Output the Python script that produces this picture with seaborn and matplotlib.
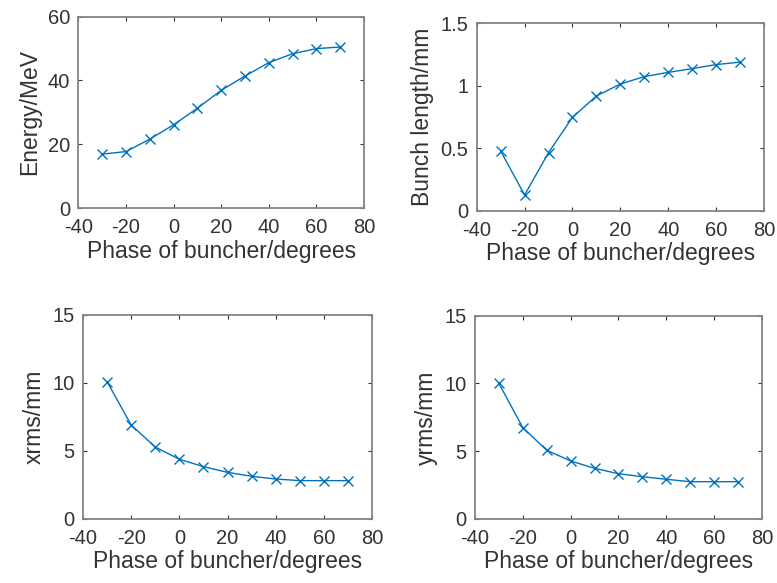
import numpy as np
import pandas as pd
import matplotlib
matplotlib.use("Agg")
import matplotlib.pyplot as plt
import seaborn as sns

# Dane
phase = [-30, -20, -10, 0, 10, 20, 30, 40, 50, 60, 70]
energy = [16.9, 17.7, 21.6, 26.1, 31.3, 36.9, 41.4, 45.6, 48.4, 50.0, 50.5]
bunch_length = [0.48, 0.128, 0.466, 0.749, 0.919, 1.015, 1.074, 1.108, 1.138, 1.17, 1.19]
xrms = [10.1, 6.91, 5.29, 4.39, 3.85, 3.43, 3.14, 2.94, 2.82, 2.82, 2.82]
yrms = [10.0, 6.74, 5.07, 4.28, 3.74, 3.34, 3.12, 2.93, 2.75, 2.75, 2.75]

sns.set_style("ticks")
plt.rcParams["font.family"] = ["Liberation Sans", "DejaVu Sans"]

line_color = "#0072BD"
text_color = "#333333"
box_color = "#858585"

fig = plt.figure(figsize=(7.77, 5.83), dpi=100)

panels = [
    ([0.1008, 0.6432, 0.3677, 0.3281], energy, "Energy/MeV", (0, 60), [0, 20, 40, 60], ["0", "20", "40", "60"]),
    ([0.6135, 0.6381, 0.3698, 0.3219], bunch_length, "Bunch length/mm", (0, 1.5), [0, 0.5, 1, 1.5], ["0", "0.5", "1", "1.5"]),
    ([0.1068, 0.1098, 0.3720, 0.3499], xrms, "xrms/mm", (0, 15), [0, 5, 10, 15], ["0", "5", "10", "15"]),
    ([0.6113, 0.1098, 0.3694, 0.3487], yrms, "yrms/mm", (0, 15), [0, 5, 10, 15], ["0", "5", "10", "15"]),
]

for pos, values, ylabel, ylim, yticks, yticklabels in panels:
    ax = fig.add_axes(pos)
    df = pd.DataFrame({"phase": phase, "value": values})
    sns.lineplot(data=df, x="phase", y="value", ax=ax, color=line_color,
                 marker="x", markersize=7.5, markeredgewidth=1.0,
                 markeredgecolor=line_color, linewidth=1.0)
    ax.set_xlim(-40, 80)
    ax.set_xticks([-40, -20, 0, 20, 40, 60, 80])
    ax.set_xticklabels(["-40", "-20", "0", "20", "40", "60", "80"])
    ax.set_ylim(*ylim)
    ax.set_yticks(yticks)
    ax.set_yticklabels(yticklabels)
    ax.set_xlabel("Phase of buncher/degrees", fontsize=16.5, color=text_color, labelpad=2)
    ax.set_ylabel(ylabel, fontsize=16.5, color=text_color, labelpad=5)
    ax.tick_params(direction="in", top=True, right=True, length=3, width=0.8,
                   labelsize=14.5, colors=text_color)
    ax.tick_params(axis="x", pad=7)
    ax.tick_params(axis="y", pad=6)
    for sp in ax.spines.values():
        sp.set_visible(True)
        sp.set_color(box_color)
        sp.set_linewidth(1.3)

fig.savefig("out.png", dpi=100)
